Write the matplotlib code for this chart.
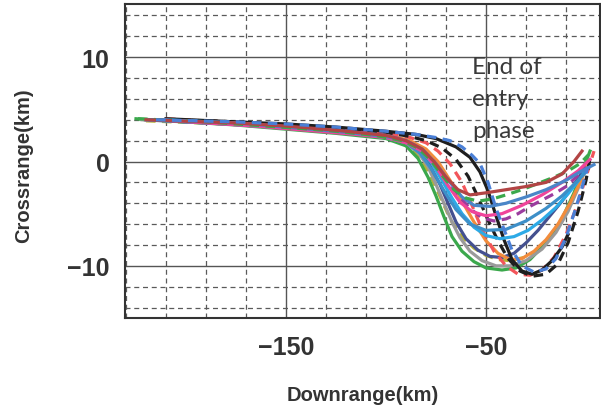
import matplotlib.pyplot as plt
from matplotlib.ticker import MultipleLocator, FixedLocator

# trajectory data (km)
olive_x = [-220, -180, -150, -120, -100, -90, -84, -79, -75, -71, -67, -62, -56, -50, -44, -38, -31, -24, -18, -12, -7, -3]
olive_y = [3.9, 3.6, 3.2, 2.8, 2.3, 1.7, 0.6, -0.9, -2.5, -4.2, -5.8, -7.2, -8.3, -9.0, -9.4, -9.5, -9.2, -8.5, -7.3, -5.6, -3.6, -1.8]

green_x = [-225, -200, -175, -150, -125, -100, -90, -84, -79, -75, -71, -67, -62, -56, -50, -42, -35, -28, -20, -12, -6, -1, 2]
green_y = [4.1, 3.8, 3.5, 3.1, 2.7, 2.2, 1.5, 0.3, -1.5, -3.3, -5.3, -7.2, -8.6, -9.6, -10.2, -10.4, -10.2, -9.4, -7.8, -5.5, -3.0, -0.5, 1.0]

gray_x = [-222, -180, -150, -120, -100, -90, -84, -79, -75, -71, -67, -63, -58, -52, -45, -38, -30, -22, -15, -9, -4, 0]
gray_y = [4.0, 3.6, 3.2, 2.8, 2.3, 1.8, 0.9, -0.5, -2.2, -4.0, -5.8, -7.3, -8.6, -9.5, -10.0, -10.0, -9.5, -8.4, -6.8, -4.8, -2.6, -0.6]

navy_x = [-218, -180, -150, -120, -100, -90, -83, -78, -73, -69, -65, -60, -54, -48, -42, -36, -30, -24, -18, -12, -6, -1]
navy_y = [4.0, 3.6, 3.3, 2.9, 2.4, 1.9, 1.0, -0.4, -2.2, -4.0, -5.8, -7.4, -8.5, -9.1, -9.2, -8.8, -7.8, -6.6, -5.2, -3.8, -2.2, -0.8]

orange_x = [-215, -175, -150, -120, -100, -88, -80, -74, -68, -62, -56, -50, -44, -38, -32, -26, -20, -14, -8, -3, 1]
orange_y = [4.0, 3.7, 3.4, 3.0, 2.6, 2.0, 1.2, 0.0, -1.8, -3.8, -5.8, -7.6, -8.8, -9.4, -9.3, -8.6, -7.5, -6.0, -4.0, -2.0, -0.2]

salmon_x = [-210, -180, -150, -120, -100, -88, -80, -74, -68, -62, -57, -52, -46, -40, -34, -28, -22, -16, -10, -5, 0, 4]
salmon_y = [4.1, 3.8, 3.5, 3.1, 2.7, 2.3, 1.8, 1.0, -0.2, -2.0, -4.2, -6.5, -8.6, -10.0, -10.8, -10.9, -10.4, -9.2, -7.0, -4.5, -1.5, 1.0]

blackd_x = [-205, -175, -150, -125, -100, -88, -80, -72, -65, -59, -54, -49, -44, -39, -33, -27, -20, -14, -9, -4, 0, 2]
blackd_y = [4.0, 3.8, 3.5, 3.2, 2.8, 2.4, 2.0, 1.3, 0.2, -1.4, -3.4, -5.6, -7.6, -9.3, -10.5, -11.0, -10.8, -9.8, -7.8, -4.8, -1.8, 0.3]

black_x = [-210, -175, -150, -125, -100, -85, -75, -65, -58, -53, -49, -45, -41, -37, -32, -27, -22, -17, -12, -9]
black_y = [4.1, 3.8, 3.6, 3.3, 2.9, 2.6, 2.2, 1.4, 0.4, -1.0, -2.8, -5.2, -7.5, -9.4, -10.5, -10.8, -10.4, -9.5, -8.2, -7.0]

cyan_x = [-212, -175, -150, -120, -100, -90, -83, -77, -72, -67, -62, -56, -50, -43, -36, -29, -22, -15, -9, -4, 0]
cyan_y = [4.0, 3.7, 3.3, 2.9, 2.5, 2.0, 1.2, -0.2, -1.8, -3.5, -5.0, -6.3, -7.1, -7.4, -7.2, -6.6, -5.6, -4.4, -3.1, -1.9, -0.8]

sky_x = [-220, -180, -150, -120, -100, -90, -83, -77, -71, -65, -58, -50, -40, -30, -20, -12, -5, 0]
sky_y = [4.0, 3.6, 3.2, 2.8, 2.3, 1.8, 0.8, -0.8, -2.8, -4.6, -6.0, -6.6, -6.5, -5.7, -4.5, -3.3, -2.0, -1.0]

purple_x = [-216, -180, -150, -120, -100, -90, -82, -76, -70, -64, -58, -52, -46, -40, -34, -28, -22, -16, -10, -5, 0]
purple_y = [4.0, 3.7, 3.3, 2.9, 2.5, 2.0, 1.2, 0.0, -1.6, -3.2, -4.5, -5.4, -5.7, -5.5, -5.0, -4.3, -3.7, -3.1, -2.4, -1.5, -0.5]

pink_x = [-214, -190, -165, -140, -115, -100, -90, -82, -75, -69, -63, -57, -50, -42, -32, -22, -12, -4, 2]
pink_y = [4.0, 3.7, 3.4, 3.0, 2.6, 2.3, 1.8, 1.0, -0.5, -2.3, -3.9, -4.8, -5.2, -5.0, -4.2, -3.2, -2.0, -0.9, 0.2]

steel_x = [-215, -175, -150, -125, -100, -90, -82, -75, -68, -62, -56, -48, -40, -30, -20, -10, -3, 4]
steel_y = [4.0, 3.7, 3.3, 2.9, 2.4, 2.0, 1.2, -0.2, -2.0, -3.4, -4.2, -4.3, -4.0, -3.4, -2.7, -1.8, -1.0, -0.3]

greend_x = [-224, -190, -160, -130, -105, -92, -84, -78, -72, -66, -60, -54, -47, -40, -32, -24, -16, -9, -3, 1]
greend_y = [4.1, 3.8, 3.4, 3.0, 2.5, 2.0, 1.3, 0.2, -1.3, -2.7, -3.5, -3.8, -3.6, -3.2, -2.7, -2.1, -1.5, -0.9, -0.2, 0.6]

brown_x = [-220, -175, -150, -125, -100, -90, -82, -76, -70, -64, -58, -50, -40, -30, -20, -12, -6, -2]
brown_y = [4.0, 3.7, 3.4, 3.0, 2.5, 2.0, 1.2, 0.0, -1.5, -2.7, -3.2, -3.0, -2.7, -2.4, -2.0, -1.2, 0.0, 1.0]

blue_x = [-215, -175, -150, -125, -100, -85, -75, -68, -62, -57, -53, -49, -45, -41, -37, -32, -26, -20, -15, -10, -6, -2, 1]
blue_y = [4.0, 3.8, 3.6, 3.3, 2.9, 2.6, 2.3, 2.0, 1.4, 0.6, -0.2, -2.0, -4.5, -6.5, -8.5, -10.0, -10.6, -10.3, -9.3, -7.3, -5.0, -2.5, -0.5]

series = [
    (olive_x, olive_y, '#b5b233', '--'),
    (green_x, green_y, '#3ba84c', '-'),
    (gray_x, gray_y, '#9a9a9a', '-'),
    (navy_x, navy_y, '#44508f', '-'),
    (orange_x, orange_y, '#f28c3c', '-'),
    (salmon_x, salmon_y, '#f2555a', '--'),
    (blackd_x, blackd_y, '#1e1e1e', '--'),
    (black_x, black_y, '#1e1e1e', '-'),
    (cyan_x, cyan_y, '#2daae6', '-'),
    (sky_x, sky_y, '#3d8fc8', '-'),
    (purple_x, purple_y, '#9b3c9e', '--'),
    (pink_x, pink_y, '#f0449a', '-'),
    (steel_x, steel_y, '#4a86c8', '-'),
    (greend_x, greend_y, '#3ba84c', '--'),
    (brown_x, brown_y, '#b24444', '-'),
    (blue_x, blue_y, '#4a7fd6', '--'),
]

fig = plt.figure(figsize=(6.01, 4.14), dpi=100)
ax = fig.add_axes([125 / 601, 1 - 319 / 414, 475 / 601, 314 / 414])

for xs, ys, c, ls in series:
    if ls == '--':
        ax.plot(xs, ys, color=c, lw=2.3, ls=(0, (3, 2)), solid_capstyle='butt')
    else:
        ax.plot(xs, ys, color=c, lw=2.3)

ax.set_xlim(-230.5, 7)
ax.set_ylim(-15, 15.1)
ax.xaxis.set_major_locator(FixedLocator([-150, -50]))
ax.xaxis.set_minor_locator(MultipleLocator(20, offset=10))
ax.yaxis.set_major_locator(FixedLocator([-10, 0, 10]))
ax.yaxis.set_minor_locator(MultipleLocator(2))
ax.grid(which='major', color='#555555', lw=1.0, ls='-')
ax.grid(which='minor', color='#5a5a5a', lw=0.9, ls=(0, (4, 3)))
ax.set_axisbelow(True)
ax.tick_params(which='both', length=0)
ax.tick_params(axis='x', pad=12)
ax.tick_params(axis='y', pad=11)
for lab in ax.get_xticklabels() + ax.get_yticklabels():
    lab.set_fontfamily('Liberation Sans')
    lab.set_fontweight('bold')
    lab.set_fontsize(18)
    lab.set_color('#333333')
for s in ax.spines.values():
    s.set_color('#333333')
    s.set_linewidth(1.5)

fig.text(24 / 601, 1 - 166 / 414, 'Crossrange(km)', rotation=90, ha='center', va='center',
         fontfamily='Liberation Sans', fontweight='bold', fontsize=14.5, color='#333333')
fig.text(363 / 601, 1 - 396 / 414, 'Downrange(km)', ha='center', va='center',
         fontfamily='Liberation Sans', fontweight='bold', fontsize=14.5, color='#333333')
fig.text(472 / 601, 1 - 57 / 414, 'End of\nentry\nphase', ha='left', va='top',
         fontfamily='Lato', fontsize=17.5, color='#3a3a3a', linespacing=1.65)

fig.savefig('out.png', dpi=100)
